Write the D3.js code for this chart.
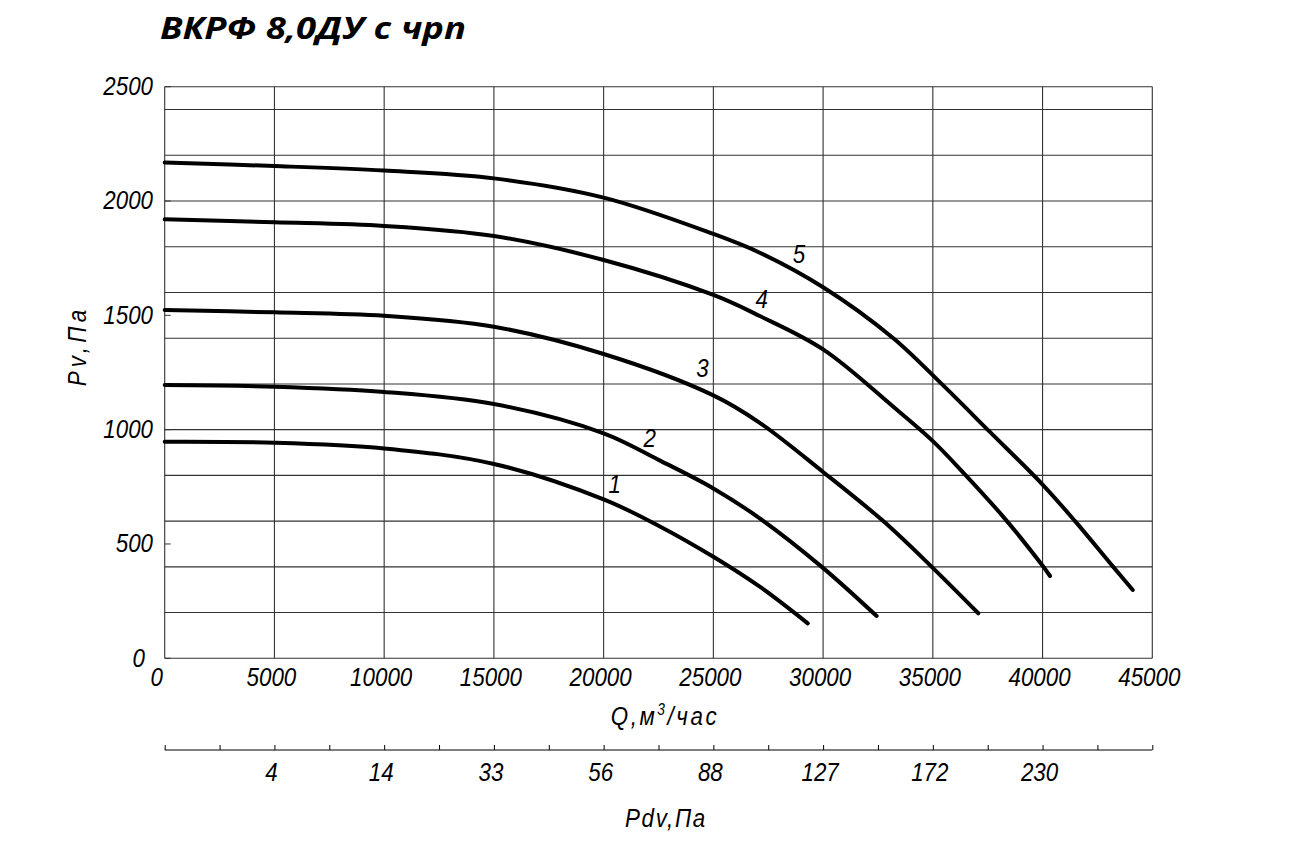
<!DOCTYPE html>
<html><head><meta charset="utf-8">
<script src="https://cdn.jsdelivr.net/npm/d3@7"></script>
<style>
body{margin:0;background:#fff;}
svg{display:block;}
.lbl{font-family:"Liberation Sans",Arial,sans-serif;font-style:italic;fill:#000;}
</style></head>
<body><svg id="c" width="1292" height="847"></svg>
<script>
const title = "ВКРФ 8,0ДУ с чрп";
const xTicks = [0,5000,10000,15000,20000,25000,30000,35000,40000,45000];
const yTicks = [0,500,1000,1500,2000,2500];
const yGrid = [0,200,400,600,800,1000,1200,1400,1600,1800,2000,2200,2400,2500];
const pdvTickQ = [5000,10000,15000,20000,25000,30000,35000,40000];
const pdvLabels = ["4","14","33","56","88","127","172","230"];
const curveNames = ["1","2","3","4","5"];
const curve1 = [[0,947],[5000,943],[10000,918],[15000,850],[20000,695],[22500,580],[25000,444],[27114,313],[29300,153]];
const curve2 = [[0,1195],[5000,1188],[10000,1165],[15000,1112],[20000,984],[22500,868],[25000,743],[27114,612],[29940,400],[32440,185]];
const curve3 = [[0,1523],[5000,1513],[10000,1498],[15000,1450],[20000,1331],[25000,1150],[27114,1030],[30000,815],[32740,600],[34950,400],[37070,197]];
const curve4 = [[0,1920],[5000,1907],[10000,1891],[15000,1847],[20000,1742],[25000,1589],[27114,1497],[30000,1351],[33200,1100],[35000,950],[36310,820],[38290,610],[39960,410],[40340,360]];
const curve5 = [[0,2168],[5000,2153],[10000,2133],[15000,2099],[20000,2015],[25000,1856],[27114,1774],[30000,1623],[33200,1400],[35400,1200],[37600,990],[40000,760],[41480,600],[43220,400],[44110,299]];
const curves = [curve1,curve2,curve3,curve4,curve5];
const labelPos = [[20500,765],[22100,965],[24500,1270],[27200,1575],[28900,1770]];

const FS = 26, SX = 0.86;
const svg = d3.select("#c");
const x = d3.scaleLinear().domain([0,45000]).range([164.7,1152.3]);
const y = d3.scaleLinear().domain([0,2500]).range([658.3,86.7]);
const nt = (px,py,extra="") => `translate(${px},${py}) ${extra} scale(${SX},1)`;

// title
svg.append("text").attr("x",160).attr("y",39)
  .attr("font-family","'Open Sans',sans-serif").attr("font-weight","bold").attr("font-style","italic")
  .attr("font-size",30).attr("textLength",306).attr("lengthAdjust","spacingAndGlyphs").text(title);

const g = svg.append("g");
g.selectAll(".hg").data(yGrid).join("line")
  .attr("x1",x(0)).attr("x2",x(45000)).attr("y1",d=>y(d)).attr("y2",d=>y(d))
  .attr("stroke","#333").attr("stroke-width",1.1);
g.selectAll(".vg").data(xTicks).join("line")
  .attr("x1",d=>x(d)).attr("x2",d=>x(d)).attr("y1",y(0)).attr("y2",y(2500))
  .attr("stroke","#333").attr("stroke-width",1.1);
g.selectAll(".yt").data(yTicks).join("line")
  .attr("x1",x(0)).attr("x2",x(0)+6).attr("y1",d=>y(d)).attr("y2",d=>y(d))
  .attr("stroke","#333").attr("stroke-width",1);

// y tick labels
svg.selectAll(".ytl").data(yTicks).join("text").attr("class","lbl")
  .attr("transform",d=>nt(d===0?145:153, y(d)-1)).attr("dy","0.36em")
  .attr("text-anchor","end").attr("font-size",FS).text(d=>d);
// x tick labels
svg.selectAll(".xtl").data(xTicks).join("text").attr("class","lbl")
  .attr("transform",d=>nt(x(d)-(d===0?8:3),686))
  .attr("text-anchor","middle").attr("font-size",FS).text(d=>d);

// axis titles
const qt = svg.append("text").attr("class","lbl").attr("transform",nt(665,725))
  .attr("text-anchor","middle").attr("font-size",FS).attr("letter-spacing",3);
qt.append("tspan").text("Q,м");
qt.append("tspan").attr("font-size",16).attr("dy",-10).text("3");
qt.append("tspan").attr("dy",10).text("/час");

svg.append("text").attr("class","lbl").attr("transform",nt(86,346,"rotate(-90)"))
  .attr("text-anchor","middle").attr("font-size",FS).attr("letter-spacing",5).text("Pv,Па");

// bottom Pdv axis
const xb = d3.axisBottom(x).tickValues(d3.range(0,45001,2500)).tickSize(-5).tickFormat("");
const ga = svg.append("g").attr("transform","translate(0,750)").call(xb);
ga.select(".domain").attr("d",`M${x(0)},0H${x(45000)}`).attr("stroke","#000").attr("stroke-width",1.2);
ga.selectAll(".tick line").attr("stroke","#000");
svg.selectAll(".pdv").data(pdvTickQ).join("text").attr("class","lbl")
  .attr("transform",d=>nt(x(d)-3,781)).attr("text-anchor","middle").attr("font-size",FS)
  .text((d,i)=>pdvLabels[i]);
svg.append("text").attr("class","lbl").attr("transform",nt(666,827))
  .attr("text-anchor","middle").attr("font-size",FS).attr("letter-spacing",2).text("Pdv,Па");

// curves
const line = d3.line().x(d=>x(d[0])).y(d=>y(d[1])).curve(d3.curveCatmullRom.alpha(0.5));
svg.selectAll(".cv").data(curves).join("path")
  .attr("d",line).attr("fill","none").attr("stroke","#000").attr("stroke-width",4)
  .attr("stroke-linecap","round").attr("stroke-linejoin","round");

svg.selectAll(".cl").data(labelPos).join("text").attr("class","lbl")
  .attr("transform",d=>nt(x(d[0]),y(d[1]))).attr("dy","0.36em")
  .attr("text-anchor","middle").attr("font-size",FS).text((d,i)=>curveNames[i]);
</script></body></html>
